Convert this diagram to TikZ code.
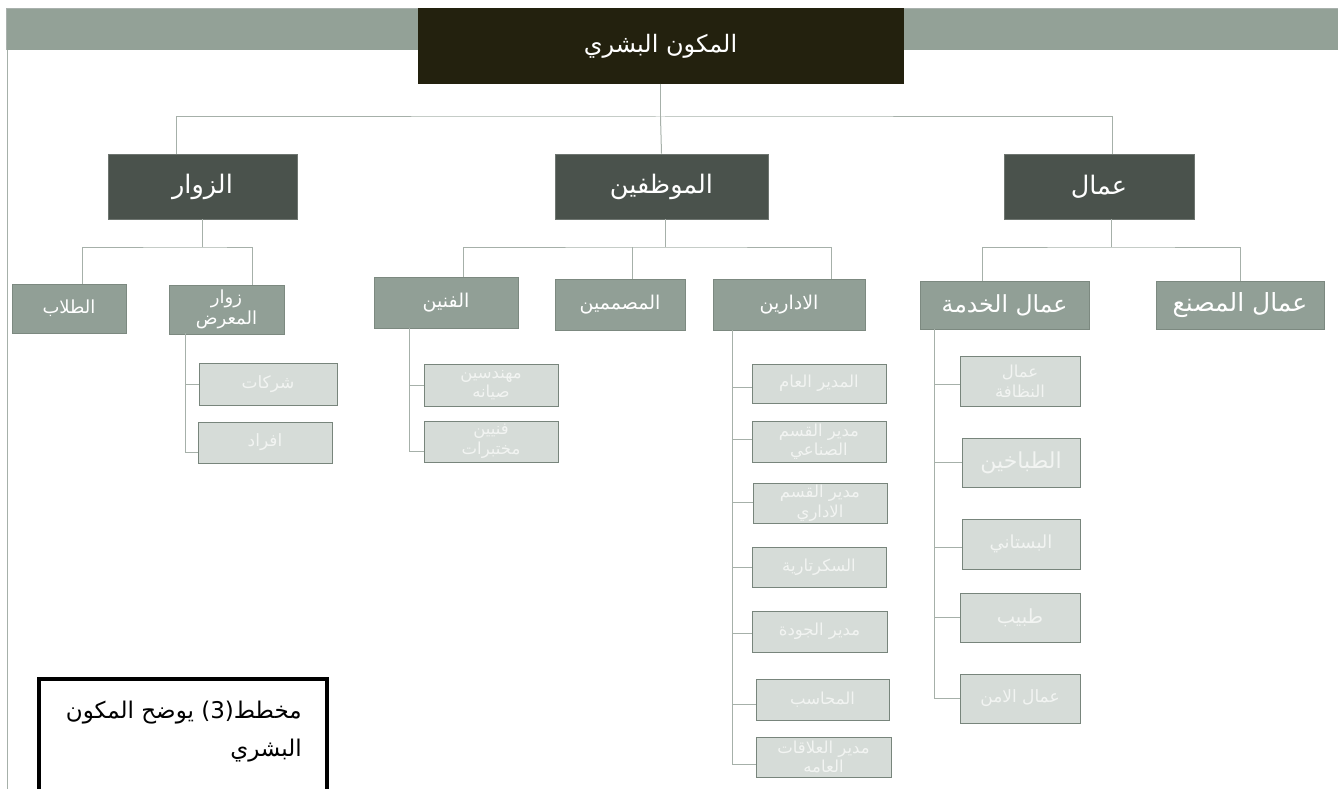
\documentclass[tikz,border=0pt]{standalone}
\usepackage{fontspec}
\TeXXeTstate=1
\newfontfamily\arabicfont[Script=Arabic]{DejaVu Sans}
\usetikzlibrary{calc}
\definecolor{bandc}{HTML}{93A197}
\definecolor{bandedge}{HTML}{A9B1AD}
\definecolor{rootc}{HTML}{23210E}
\definecolor{lvlonec}{HTML}{4A524C}
\definecolor{lvltwoc}{HTML}{919F96}
\definecolor{lvltwob}{HTML}{7C8980}
\definecolor{lvlthreec}{HTML}{D6DCD8}
\definecolor{lvlthreeb}{HTML}{78857C}
\definecolor{linec}{HTML}{A6B0A9}
\definecolor{lighttxt}{HTML}{F2F4F2}
\newcommand{\artxt}[1]{\beginR #1\endR}
\tikzset{
  boxbase/.style={rectangle, inner sep=0pt, align=center},
  rootbox/.style={boxbase, fill=rootc, draw=rootc, text=white, font=\arabicfont\fontsize{24}{28}\selectfont},
  lvlone/.style={boxbase, fill=lvlonec, draw=lvlonec!80!white, line width=0.8pt, text=white, font=\arabicfont\fontsize{25.5}{30}\selectfont},
  lvltwo/.style={boxbase, fill=lvltwoc, draw=lvltwob, line width=0.8pt, text=white, font=\arabicfont\fontsize{19}{21}\selectfont},
  lvlthree/.style={boxbase, fill=lvlthreec, draw=lvlthreeb, line width=0.8pt, text=lighttxt, font=\arabicfont\fontsize{16.5}{19.5}\selectfont},
  conn/.style={draw=linec, line width=1pt},
  capbox/.style={draw=black, line width=4pt, rectangle, inner sep=0pt},
  captxt/.style={align=right, text=black, inner sep=0pt, font=\arabicfont\fontsize{23}{38}\selectfont}
}
\begin{document}
\begin{tikzpicture}[x=1pt, y=-1pt]
\useasboundingbox (0,0) rectangle (1338,789);
\clip (0,0) rectangle (1338,789);
% header band and left rule
\fill[bandc] (6,8) rectangle (1338,50);
\draw[bandedge, line width=0.8pt] (6,50) -- (6,8) -- (1338,8);
\draw[conn] (7,50) -- (7,789);

% root
\node[rootbox, minimum width=485pt, minimum height=75pt] (root) at (660.5,46) {\artxt{المكون البشري}};

% level 1
\node[lvlone, minimum width=189pt, minimum height=65pt] (zuwar) at (202.5,186.5) {\artxt{الزوار}};
\node[lvlone, minimum width=213pt, minimum height=65pt] (muwaz) at (661.5,186.5) {\artxt{الموظفين}};
\node[lvlone, minimum width=190pt, minimum height=65pt] (ummal) at (1099,186.5) {\artxt{عمال}};

\coordinate (b0) at (660.5,117);
\draw[conn] (root.south) -- (b0);
\draw[conn] ([xshift=-26.5pt]zuwar.north) |- (b0) -| ([xshift=13pt]ummal.north);
\draw[conn] (b0) -- (muwaz.north);

% level 2 - visitors
\node[lvltwo, minimum width=114pt, minimum height=49pt, font=\arabicfont\fontsize{18}{20}\selectfont] (tullab) at (69,308.5) {\artxt{الطلاب}};
\node[lvltwo, minimum width=115pt, minimum height=49pt, font=\arabicfont\fontsize{18}{21}\selectfont] (zmaarad) at (226.5,309.5) {\artxt{زوار}\\\artxt{المعرض}};
\coordinate (b1) at (202.5,247);
\draw[conn] (zuwar.south) -- (b1);
\draw[conn] ([xshift=13pt]tullab.north) |- (b1) -| ([xshift=25.5pt]zmaarad.north);

% level 2 - employees
\node[lvltwo, minimum width=144pt, minimum height=51pt] (fanniyin) at (446,302.5) {\artxt{الفنين}};
\node[lvltwo, minimum width=130pt, minimum height=51pt] (musammim) at (620,304.5) {\artxt{المصممين}};
\node[lvltwo, minimum width=152pt, minimum height=51pt] (idariyin) at (789,304.5) {\artxt{الادارين}};
\coordinate (b2) at (665,247);
\draw[conn] ([xshift=3.5pt]muwaz.south) -- (b2);
\draw[conn] ([xshift=17pt]fanniyin.north) |- (b2) -| ([xshift=42pt]idariyin.north);
\coordinate (mtop) at ([xshift=12pt]musammim.north);
\draw[conn] (mtop |- b2) -- (mtop);

% level 2 - workers
\node[lvltwo, minimum width=169pt, minimum height=48pt, font=\arabicfont\fontsize{23.5}{27}\selectfont] (khidma) at (1004.5,305) {\artxt{عمال الخدمة}};
\node[lvltwo, minimum width=168pt, minimum height=48pt, font=\arabicfont\fontsize{25}{28}\selectfont] (masnaa) at (1240,305) {\artxt{عمال المصنع}};
\coordinate (b3) at (1111,247);
\draw[conn] ([xshift=12pt]ummal.south) -- (b3);
\draw[conn] ([xshift=-22.5pt]khidma.north) |- (b3) -| (masnaa.north);

% level 3 - exhibition visitors
\node[lvlthree, minimum width=138pt, minimum height=42pt, font=\arabicfont\fontsize{17}{20}\selectfont] (sharikat) at (268,384) {\artxt{شركات}};
\node[lvlthree, minimum width=134pt, minimum height=41pt, font=\arabicfont\fontsize{17}{20}\selectfont] (afrad) at (265,442.5) {\artxt{افراد}};
\coordinate (s1) at (185,333);
\draw[conn] (s1) |- ([yshift=-9.5pt]afrad.west);
\draw[conn] (s1 |- sharikat.west) -- (sharikat.west);

% level 3 - technicians
\node[lvlthree, minimum width=134pt, minimum height=42pt] (muhandis) at (491,385) {\artxt{مهندسين}\\\artxt{صيانه}};
\node[lvlthree, minimum width=134pt, minimum height=41pt] (mukhtabar) at (491,441.5) {\artxt{فنيين}\\\artxt{مختبرات}};
\coordinate (s2) at (409,328);
\draw[conn] (s2) |- ([yshift=-9.5pt]mukhtabar.west);
\draw[conn] (s2 |- muhandis.west) -- (muhandis.west);

% level 3 - administrators
\node[lvlthree, minimum width=134pt, minimum height=39pt] (a1) at (819,383.5) {\artxt{المدير العام}};
\node[lvlthree, minimum width=134pt, minimum height=41pt] (a2) at (819,441.5) {\artxt{مدير القسم}\\\artxt{الصناعي}};
\node[lvlthree, minimum width=134pt, minimum height=40pt] (a3) at (820,503) {\artxt{مدير القسم}\\\artxt{الاداري}};
\node[lvlthree, minimum width=134pt, minimum height=40pt] (a4) at (819,567) {\artxt{السكرتارية}};
\node[lvlthree, minimum width=135pt, minimum height=41pt] (a5) at (819.5,631.5) {\artxt{مدير الجودة}};
\node[lvlthree, minimum width=133pt, minimum height=41pt] (a6) at (822.5,699.5) {\artxt{المحاسب}};
\node[lvlthree, minimum width=135pt, minimum height=40pt] (a7) at (823.5,757) {\artxt{مدير العلاقات}\\\artxt{العامه}};
\coordinate (s3) at (732,330);
\draw[conn] (s3) |- ([yshift=-7pt]a7.west);
\foreach \n/\dy in {a1/-3.5,a2/2.5,a3/1,a4/0,a5/-1.5,a6/-4.5}{
  \coordinate (tmp) at ([yshift=\dy pt]\n.west);
  \draw[conn] (s3 |- tmp) -- (tmp);
}

% level 3 - service workers
\node[lvlthree, minimum width=120pt, minimum height=50pt] (w1) at (1020,381) {\artxt{عمال}\\\artxt{النظافة}};
\node[lvlthree, minimum width=118pt, minimum height=49pt, font=\arabicfont\fontsize{22}{25}\selectfont] (w2) at (1021,462.5) {\artxt{الطباخين}};
\node[lvlthree, minimum width=118pt, minimum height=50pt, font=\arabicfont\fontsize{18}{21}\selectfont] (w3) at (1021,544) {\artxt{البستاني}};
\node[lvlthree, minimum width=120pt, minimum height=49pt, font=\arabicfont\fontsize{19.5}{22}\selectfont] (w4) at (1020,617.5) {\artxt{طبيب}};
\node[lvlthree, minimum width=120pt, minimum height=49pt, font=\arabicfont\fontsize{17}{20}\selectfont] (w5) at (1020,698.5) {\artxt{عمال الامن}};
\coordinate (s4) at (934,329);
\draw[conn] (s4) |- (w5.west);
\foreach \n/\dy in {w1/-3,w2/0,w3/-3,w4/0}{
  \coordinate (tmp) at ([yshift=\dy pt]\n.west);
  \draw[conn] (s4 |- tmp) -- (tmp);
}

% caption
\node[capbox, minimum width=288pt, minimum height=140pt, anchor=north west] (cap) at (37,677) {};
\node[captxt, anchor=north east] (captext) at (302,701) {\artxt{مخطط(3) يوضح المكون}\\\artxt{البشري}};
\end{tikzpicture}
\end{document}
